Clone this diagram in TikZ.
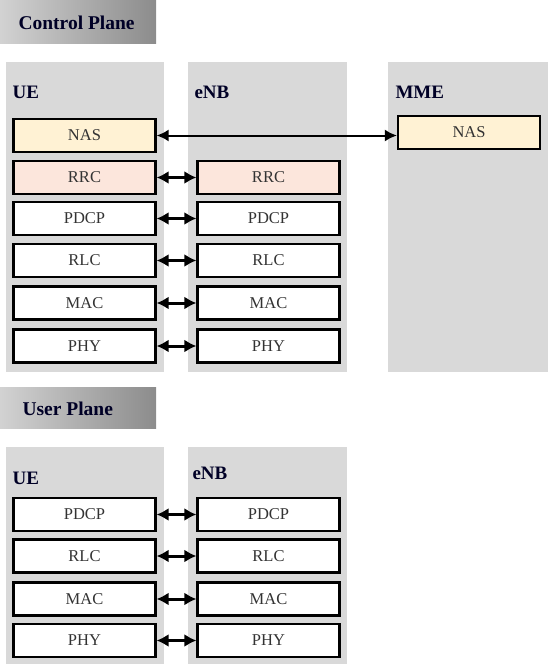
\documentclass[tikz,border=0pt]{standalone}
\usepackage{fontspec}
\setmainfont{Liberation Serif}
\usetikzlibrary{arrows.meta}
\definecolor{panelgray}{HTML}{D9D9D9}
\definecolor{nasfill}{HTML}{FFF2D4}
\definecolor{rrcfill}{HTML}{FCE6DC}
\definecolor{bannerL}{HTML}{D2D2D2}
\definecolor{bannerR}{HTML}{8C8C8C}
\begin{document}
\begin{tikzpicture}[x=1pt,y=-1pt,
  panel/.style={fill=panelgray,draw=none},
  layer/.style={draw=black,line width=2.2pt,minimum width=142pt,minimum height=33pt,inner sep=0pt,font=\fontsize{16.5}{16.5}\selectfont,text=black!80},
  hdr/.style={font=\bfseries\fontsize{19}{19}\selectfont,text=black!85!blue,anchor=west},
  banner/.style={left color=bannerL,right color=bannerR,draw=none},
  bannertext/.style={font=\bfseries\fontsize{19.5}{19.5}\selectfont,text=black!85!blue,anchor=west},
  link/.style={{Latex[length=12pt,width=13pt]}-{Latex[length=12pt,width=13pt]},line width=3pt}
]
\useasboundingbox (0,0) rectangle (550,667);
% Control plane banner
\shade[banner] (0,0) rectangle (156,43);
\node[bannertext] (cpt) at (15,23) {Control Plane};
% panels
\fill[panel] (6,62) rectangle (164,372);
\fill[panel] (188,62) rectangle (347,372);
\fill[panel] (388,62) rectangle (548,372);
\node[hdr] (cue) at (9,92) {UE};
\node[hdr] (cenb) at (191,92) {eNB};
\node[hdr] (cmme) at (392,92) {MME};
% UE stack
\node[layer,fill=nasfill] (uenas) at (84.5,135.5) {NAS};
\node[layer,fill=rrcfill] (uerrc) at (84.5,177.5) {RRC};
\node[layer,fill=white] (uepdcp) at (84.5,218.5) {PDCP};
\node[layer,fill=white] (uerlc) at (84.5,260.5) {RLC};
\node[layer,fill=white] (uemac) at (84.5,303) {MAC};
\node[layer,fill=white] (uephy) at (84.5,346) {PHY};
% eNB stack
\node[layer,fill=rrcfill] (enrrc) at (268.5,177.5) {RRC};
\node[layer,fill=white] (enpdcp) at (268.5,218.5) {PDCP};
\node[layer,fill=white] (enrlc) at (268.5,260.5) {RLC};
\node[layer,fill=white] (enmac) at (268.5,303) {MAC};
\node[layer,fill=white] (enphy) at (268.5,346) {PHY};
% MME
\node[layer,fill=nasfill] (mmenas) at (469,132.5) {NAS};
% links
\draw[{Latex[length=12pt,width=12pt]}-{Latex[length=12pt,width=12pt]},line width=2pt] (uenas.east) -- (uenas.east -| mmenas.west);
\draw[link] (uerrc) -- (enrrc);
\draw[link] (uepdcp) -- (enpdcp);
\draw[link] (uerlc) -- (enrlc);
\draw[link] (uemac) -- (enmac);
\draw[link] (uephy) -- (enphy);
% User plane banner
\shade[banner] (0,387) rectangle (156,428);
\node[bannertext] (upt) at (19,409) {User Plane};
\fill[panel] (6,447) rectangle (164,664);
\fill[panel] (188,447) rectangle (347,664);
\node[hdr] (uue) at (9,478) {UE};
\node[hdr] (uenb) at (189,473) {eNB};
\node[layer,fill=white] (u1pdcp) at (84.5,514.5) {PDCP};
\node[layer,fill=white] (u1rlc) at (84.5,556) {RLC};
\node[layer,fill=white] (u1mac) at (84.5,599) {MAC};
\node[layer,fill=white] (u1phy) at (84.5,640.5) {PHY};
\node[layer,fill=white] (u2pdcp) at (268.5,514.5) {PDCP};
\node[layer,fill=white] (u2rlc) at (268.5,556) {RLC};
\node[layer,fill=white] (u2mac) at (268.5,599) {MAC};
\node[layer,fill=white] (u2phy) at (268.5,640.5) {PHY};
\draw[link] (u1pdcp) -- (u2pdcp);
\draw[link] (u1rlc) -- (u2rlc);
\draw[link] (u1mac) -- (u2mac);
\draw[link] (u1phy) -- (u2phy);
\end{tikzpicture}
\end{document}
